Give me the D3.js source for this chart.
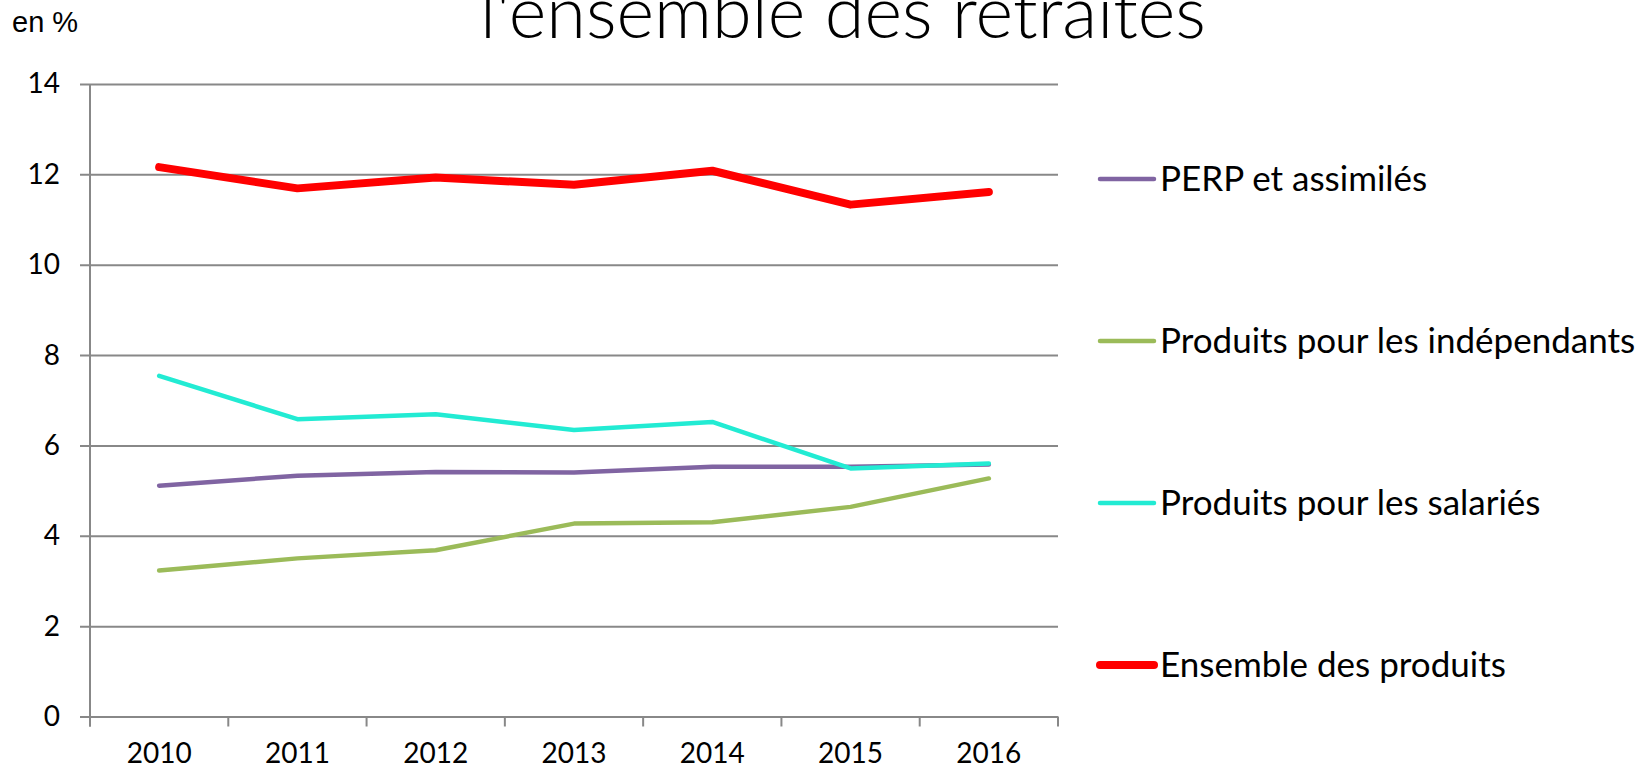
<!DOCTYPE html>
<html>
<head>
<meta charset="utf-8">
<script src="https://cdn.jsdelivr.net/npm/d3@7"></script>
<style>
  body { margin: 0; background: #fff; }
  text { font-family: Lato, "Noto Sans", sans-serif; fill: #000; }
</style>
</head>
<body>
<div id="chart"></div>
<script>
//All the data
var years = ["2010", "2011", "2012", "2013", "2014", "2015", "2016"];
var yTicks = [0, 2, 4, 6, 8, 10, 12, 14];
var perp = [5.11, 5.33, 5.41, 5.40, 5.53, 5.53, 5.58];
var independants = [3.23, 3.50, 3.68, 4.27, 4.30, 4.64, 5.27];
var salaries = [7.54, 6.58, 6.69, 6.34, 6.52, 5.49, 5.60];
var ensemble = [12.16, 11.69, 11.93, 11.77, 12.08, 11.33, 11.61];
var seriesNames = ["PERP et assimilés", "Produits pour les indépendants", "Produits pour les salariés", "Ensemble des produits"];
var seriesColors = ["#8064A2", "#9BBB59", "#22EBD3", "#FF0000"];
var seriesWidths = [4.5, 4.5, 4.5, 8];

var series = [perp, independants, salaries, ensemble];

//Sizes
var w = 1646, h = 769;
var margin = { top: 84, right: 588, bottom: 52.5, left: 90 };
var width = w - margin.left - margin.right;   // 968
var height = h - margin.top - margin.bottom;  // 632.5

var svg = d3.select("#chart")
  .append("svg")
    .attr("width", w)
    .attr("height", h);

var chart = svg.append("g")
    .attr("transform", "translate(" + margin.left + "," + margin.top + ")");

//Scales
var x = d3.scaleBand().domain(years).range([0, width]);
var y = d3.scaleLinear().domain([0, 14]).range([height, 0]);

// Gridlines + Y labels (axis placed at right edge, ticks run left past the y axis)
var yAxis = chart.append("g")
    .attr("transform", "translate(" + width + ",0)")
    .call(d3.axisLeft(y).tickValues(yTicks).tickSize(width + 10).tickPadding(20));
yAxis.select(".domain").remove();
yAxis.selectAll("line").attr("stroke", "#888").attr("stroke-width", 2);
yAxis.selectAll("text")
    .style("font-size", "28px")
    .style("font-family", "Lato, sans-serif")
    .attr("fill", "#000");

// Y axis line
chart.append("line")
    .attr("x1", 0).attr("x2", 0)
    .attr("y1", 0).attr("y2", height + 10)
    .attr("stroke", "#888")
    .attr("stroke-width", 2);

// X axis ticks at band edges
var edges = years.map(function(d) { return x(d); }).concat([width]);
chart.selectAll("xTick")
  .data(edges)
  .enter()
  .append("line")
    .attr("x1", function(d) { return d; })
    .attr("x2", function(d) { return d; })
    .attr("y1", height)
    .attr("y2", height + 10)
    .attr("stroke", "#888")
    .attr("stroke-width", 2);

// X labels
chart.selectAll("xLabel")
  .data(years)
  .enter()
  .append("text")
    .attr("x", function(d) { return x(d) + x.bandwidth() / 2; })
    .attr("y", height + 46)
    .attr("text-anchor", "middle")
    .style("font-size", "28px")
    .text(function(d) { return d; });

//Lines
var line = d3.line()
    .x(function(d, i) { return x(years[i]) + x.bandwidth() / 2; })
    .y(function(d) { return y(d); });

chart.selectAll("seriesLine")
  .data(series)
  .enter()
  .append("path")
    .attr("d", line)
    .attr("fill", "none")
    .attr("stroke", function(d, i) { return seriesColors[i]; })
    .attr("stroke-width", function(d, i) { return seriesWidths[i]; })
    .attr("stroke-linecap", "round")
    .attr("stroke-linejoin", "round");

//Legend
var legend = svg.selectAll("legendItem")
  .data(seriesNames)
  .enter()
  .append("g")
    .attr("transform", function(d, i) { return "translate(1100," + (179 + i * 162) + ")"; });

legend.append("line")
    .attr("x1", 0).attr("x2", 54)
    .attr("y1", 0).attr("y2", 0)
    .attr("stroke", function(d, i) { return seriesColors[i]; })
    .attr("stroke-width", function(d, i) { return seriesWidths[i]; })
    .attr("stroke-linecap", "round");

legend.append("text")
    .attr("x", 60)
    .attr("y", 12)
    .style("font-size", "35px")
    .text(function(d) { return d; });

//Unit label
svg.append("text")
    .attr("x", 12)
    .attr("y", 32)
    .style("font-family", "'Liberation Sans', Arial, sans-serif")
    .style("font-size", "29px")
    .text("en %");

//Title (only its last line shows, cut by the top edge)
svg.append("text")
    .attr("x", 843)
    .attr("y", 38)
    .attr("text-anchor", "middle")
    .style("font-size", "72px")
    .style("font-weight", 300)
    .text("l'ensemble des retraites");
</script>
</body>
</html>
